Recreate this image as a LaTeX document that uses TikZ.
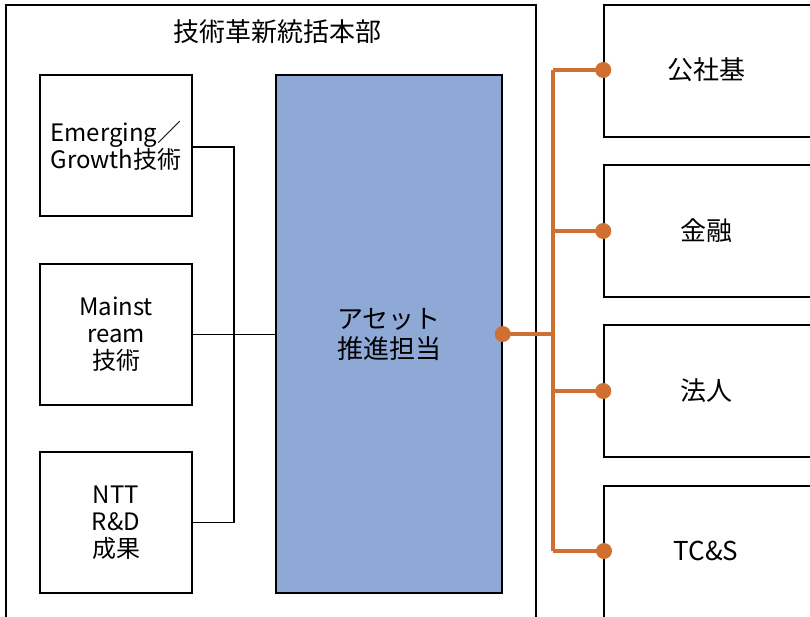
\documentclass[tikz,border=0pt]{standalone}
\usepackage{fontspec}
\setmainfont{Noto Sans CJK JP}
\definecolor{bluefill}{RGB}{143,169,214}
\definecolor{orangeline}{RGB}{208,112,48}
\begin{document}
\begin{tikzpicture}[x=1pt,y=-1pt,
  box/.style={draw=black,line width=1.5pt,fill=white,inner sep=0pt,align=center},
  txtl/.style={font=\fontsize{24}{27}\selectfont},
  txtr/.style={font=\fontsize{26}{30}\selectfont},
  link/.style={draw=black,line width=1.4pt},
  bus/.style={draw=orangeline,line width=3.3pt},
  dot/.style={circle,fill=orangeline,inner sep=0pt,minimum size=16pt}]
\useasboundingbox (0,0) rectangle (810,616);
\clip (0,0) rectangle (810,616);
% outer frame
\node[draw=none,inner sep=0pt,minimum width=530pt,minimum height=640pt] (outer) at (271,325) {};
\draw[line width=1.5pt] (outer.south west) -- (outer.north west) -- (outer.north east) -- (outer.south east);
\node[txtr] (title) at (277,32) {技術革新統括本部};
% left boxes
\node[box,txtl,minimum width=152pt,minimum height=141pt] (l1) at (116,145.5) {Emerging／\\Growth技術};
\node[box,txtl,minimum width=152pt,minimum height=141pt] (l2) at (116,334.5) {Mainst\\ream\\技術};
\node[box,txtl,minimum width=152pt,minimum height=141pt] (l3) at (116,522.5) {NTT\\R\&D\\成果};
% blue
\node[box,fill=bluefill,txtr,minimum width=226pt,minimum height=518pt] (asset) at (389,334) {アセット\\推進担当};
% left links
\coordinate (lj) at (234,147);
\draw[link] (l1.east |- lj) -- (lj) |- (l3.east);
\draw[link] (l2.east) -- (asset.west |- l2.east);
% right boxes
\node[box,minimum width=230pt,minimum height=132pt] (r1) at (719,71) {};
\node[txtr] at (706,70) {公社基};
\node[box,minimum width=230pt,minimum height=132pt] (r2) at (719,231) {};
\node[txtr] at (706,231) {金融};
\node[box,minimum width=230pt,minimum height=132pt] (r3) at (719,391) {};
\node[txtr] at (706,391) {法人};
\node[draw=none,inner sep=0pt,minimum width=230pt,minimum height=160pt] (r4) at (719,566) {};
\draw[line width=1.5pt] (r4.south west) -- (r4.north west) -- (r4.north east);
\node[txtr] at (706,551) {TC\&S};
% orange bus
\coordinate (bt) at (553,70);
\coordinate (bb) at (553,551);
\coordinate (t4) at (604,551);
\draw[bus] (bt) -- (bb);
\draw[bus] (asset.east) -- (asset.east -| bt);
\draw[bus] (bt) -- (r1.west |- bt);
\draw[bus] (r2.west -| bt) -- (r2.west);
\draw[bus] (r3.west -| bt) -- (r3.west);
\draw[bus] (bb) -- (t4);
\node[dot] at (asset.east) {};
\node[dot] at (r1.west |- bt) {};
\node[dot] at (r2.west) {};
\node[dot] at (r3.west) {};
\node[dot] at (t4) {};
\end{tikzpicture}
\end{document}
